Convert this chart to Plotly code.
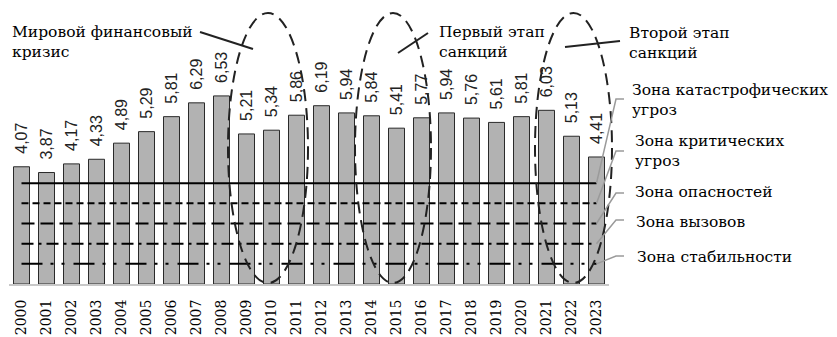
import plotly.graph_objects as go

# ---- data -------------------------------------------------------------
years = [str(y) for y in range(2000, 2024)]
values = [4.07, 3.87, 4.17, 4.33, 4.89, 5.29, 5.81, 6.29, 6.53, 5.21, 5.34, 5.86,
          6.19, 5.94, 5.84, 5.41, 5.77, 5.94, 5.76, 5.61, 5.81, 6.03, 5.13, 4.41]

zone_names = ["Зона катастрофических<br>угроз", "Зона критических<br>угроз",
              "Зона опасностей", "Зона вызовов", "Зона стабильности"]
zone_levels = [3.5, 2.8, 2.1, 1.4, 0.7]
zone_dashes = ["solid", "7px,4px", "13px,6px", "12px,5px,3px,5px",
               "21px,8px,3px,8px,3px,9px"]

events = ["Мировой финансовый<br>кризис", "Первый этап<br>санкций", "Второй этап<br>санкций"]

# ---- geometry helpers -------------------------------------------------
W, H = 837, 337
ML, MR, MT, MB = 9, 228, 0, 53
PW, PH = W - ML - MR, H - MT - MB
XR = [-0.5, len(years) - 0.5]
YR = [0, 9.86]


def px_x(px):
    return (px - ML) / PW


def px_y(py):
    return (H - MB - py) / PH


def dx(i):
    return (i - XR[0]) / (XR[1] - XR[0])


def dy(v):
    return (v - YR[0]) / (YR[1] - YR[0])


SERIF = "DejaVu Serif"
SANS = "Liberation Sans"

fig = go.Figure()

xs = list(range(len(years)))
fig.add_trace(go.Bar(
    x=xs, y=values, width=0.64,
    marker=dict(color="#b2b2b2", line=dict(color="#2a2a2a", width=1)),
    showlegend=False, hoverinfo="skip",
))

for lvl, dash in zip(zone_levels, zone_dashes):
    fig.add_trace(go.Scatter(
        x=[xs[0], xs[-1]], y=[lvl, lvl], mode="lines",
        line=dict(color="black", width=2, dash=dash),
        showlegend=False, hoverinfo="skip",
    ))

annotations = []
# value labels above the bars
for i, v in enumerate(values):
    annotations.append(dict(
        x=i, y=v, xref="x", yref="y", text=f"{v:.2f}".replace(".", ","),
        textangle=-90, showarrow=False, xanchor="center", yanchor="bottom",
        yshift=11, font=dict(family=SANS, size=16, color="#222"),
    ))

# event captions
event_pos = [(10, 21), (437, 21), (627, 22)]
for txt, (x, y) in zip(events, event_pos):
    annotations.append(dict(
        x=px_x(x), y=px_y(y), xref="paper", yref="paper", text=txt,
        showarrow=False, xanchor="left", yanchor="top", align="left",
        font=dict(family=SERIF, size=15.5, color="black"),
    ))

# zone captions
zone_text_pos = [(630, 100), (633, 151), (633, 192), (634, 222), (635, 257)]
for txt, (x, y) in zip(zone_names, zone_text_pos):
    annotations.append(dict(
        x=px_x(x), y=px_y(y), xref="paper", yref="paper", text=txt,
        showarrow=False, xanchor="left", yanchor="middle", align="left",
        font=dict(family=SERIF, size=15.5, color="black"),
    ))

shapes = []
# dashed ellipses around the crisis periods (category index, value units)
ellipses = [(8.26, 11.46), (13.34, 16.38), (20.54, 23.62)]
for x0, x1 in ellipses:
    shapes.append(dict(
        type="circle", xref="paper", yref="paper",
        x0=dx(x0), x1=dx(x1), y0=dy(0.035), y1=dy(9.41),
        line=dict(color="#222", width=2, dash="12px,7px"),
    ))

# pointer strokes from event captions to ellipses
pointers = [((200, 32), (253, 49)), ((398, 53), (428, 33)), ((565, 47), (620, 41))]
for (x0, y0), (x1, y1) in pointers:
    shapes.append(dict(
        type="line", xref="paper", yref="paper",
        x0=px_x(x0), y0=px_y(y0), x1=px_x(x1), y1=px_y(y1),
        line=dict(color="#222", width=2),
    ))

# gray leader lines from zone captions to the zone lines
leader_y = [99, 151, 193, 220, 256]
for ly, lvl in zip(leader_y, zone_levels):
    path = "M {} {} L {} {} L {} {}".format(
        px_x(624), px_y(ly), px_x(616), px_y(ly), dx(len(years) - 1), dy(lvl))
    shapes.append(dict(
        type="path", xref="paper", yref="paper", path=path,
        line=dict(color="#9a9a9a", width=1.5),
    ))

fig.update_layout(
    width=W, height=H,
    margin=dict(l=ML, r=MR, t=MT, b=MB),
    paper_bgcolor="white", plot_bgcolor="white",
    bargap=0.36,
    annotations=annotations, shapes=shapes,
    xaxis=dict(
        range=XR, tickmode="array", tickvals=xs, ticktext=years,
        tickangle=-90, showgrid=False, zeroline=False,
        showline=True, linecolor="#c8c8c8", linewidth=2,
        ticks="outside", ticklen=8, tickcolor="rgba(0,0,0,0)",
        tickfont=dict(family=SERIF, size=14, color="black"),
    ),
    yaxis=dict(range=YR, visible=False, showgrid=False, zeroline=False),
)

fig.write_html("out.html")
